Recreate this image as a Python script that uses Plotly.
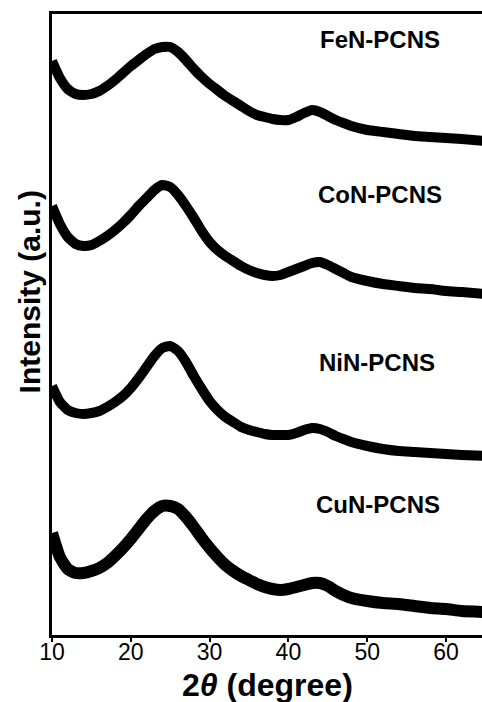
import plotly.graph_objects as go

# 2-theta sampling (degrees)
two_theta = [10, 11, 12, 13, 14, 15, 16, 17, 18, 19,
             20, 21, 22, 23, 24, 25, 26, 27, 28, 29,
             30, 31, 32, 33, 34, 35, 36, 37, 38, 39,
             40, 41, 42, 43, 44, 45, 46, 47, 48,
             50, 52, 54, 56, 58, 60, 62, 65]

# stacked XRD intensities (a.u., vertically offset)
fen_pcns = [574, 557, 546, 541, 540, 541, 544, 549, 555, 562,
            569, 575, 581, 586, 588, 588, 583, 575, 566, 558,
            551, 545, 539, 534, 529, 524, 520, 518, 516, 515,
            515, 518, 522, 525, 523, 519, 515, 512, 509,
            505, 503, 501, 499, 498, 497, 496, 494]
con_pcns = [429, 411, 398, 391, 389, 390, 394, 399, 405, 412,
            420, 429, 437, 445, 450, 448, 440, 429, 417, 404,
            393, 385, 379, 374, 369, 365, 362, 360, 359, 360,
            363, 366, 369, 372, 373, 370, 366, 362, 358,
            354, 351, 349, 347, 346, 344, 343, 341]
nin_pcns = [249, 233, 225, 222, 221, 222, 224, 228, 233, 239,
            247, 257, 268, 279, 287, 289, 284, 273, 259, 246,
            234, 225, 218, 213, 208, 205, 203, 201, 200, 200,
            200, 202, 205, 207, 206, 203, 199, 196, 193,
            189, 186, 184, 183, 182, 181, 180, 179]
cun_pcns = [102, 78, 66, 62, 62, 64, 67, 72, 79, 87,
            96, 106, 116, 124, 129, 129, 126, 118, 108, 97,
            87, 78, 70, 64, 59, 55, 51, 48, 46, 45,
            46, 48, 50, 52, 52, 49, 44, 40, 37,
            34, 32, 31, 29, 27, 26, 24, 23]

sample_names = ["FeN-PCNS", "CoN-PCNS", "NiN-PCNS", "CuN-PCNS"]
label_x = [51.6, 51.6, 51.2, 51.4]
label_y = [596, 441, 273, 131]

series = [fen_pcns, con_pcns, nin_pcns, cun_pcns]
widths = [10, 10, 10, 12]

FONT = "Arial, Liberation Sans, sans-serif"

fig = go.Figure()
for name, ys, w in zip(sample_names, series, widths):
    fig.add_trace(go.Scatter(
        x=two_theta, y=ys, mode="lines", name=name,
        line=dict(color="black", width=w, shape="spline", smoothing=0.5),
        showlegend=False,
    ))

for name, lx, ly in zip(sample_names, label_x, label_y):
    fig.add_annotation(
        x=lx, y=ly, xref="x", yref="y", text=f"<b>{name}</b>",
        showarrow=False, xanchor="center", yanchor="middle",
        font=dict(family=FONT, size=24, color="black"),
    )

# y-axis title
fig.add_annotation(
    x=-0.053, y=0.552, xref="paper", yref="paper",
    text="<b>Intensity (a.u.)</b>", textangle=-90, showarrow=False,
    xanchor="center", yanchor="middle",
    font=dict(family=FONT, size=30, color="black"),
)
# x-axis title
fig.add_annotation(
    x=0.502, y=-0.080, xref="paper", yref="paper",
    text="<b>2<i>θ</i> (degree)</b>", showarrow=False,
    xanchor="center", yanchor="middle",
    font=dict(family=FONT, size=32, color="black"),
)

fig.update_xaxes(
    range=[10, 64.57], tickvals=[10, 20, 30, 40, 50, 60],
    showline=True, linecolor="black", linewidth=3, mirror=True,
    ticks="outside", ticklen=4, tickwidth=2, tickcolor="black",
    ticklabelstandoff=-10,
    tickfont=dict(family=FONT, size=23, color="black"),
    showgrid=False, zeroline=False,
)
fig.update_yaxes(
    range=[0, 621], showticklabels=False, ticks="",
    showline=True, linecolor="black", linewidth=3, mirror=False,
    showgrid=False, zeroline=False,
)

fig.update_layout(
    width=482, height=702,
    margin=dict(l=52, r=0, t=14, b=67),
    paper_bgcolor="white", plot_bgcolor="white",
)

fig.write_html("out.html")
